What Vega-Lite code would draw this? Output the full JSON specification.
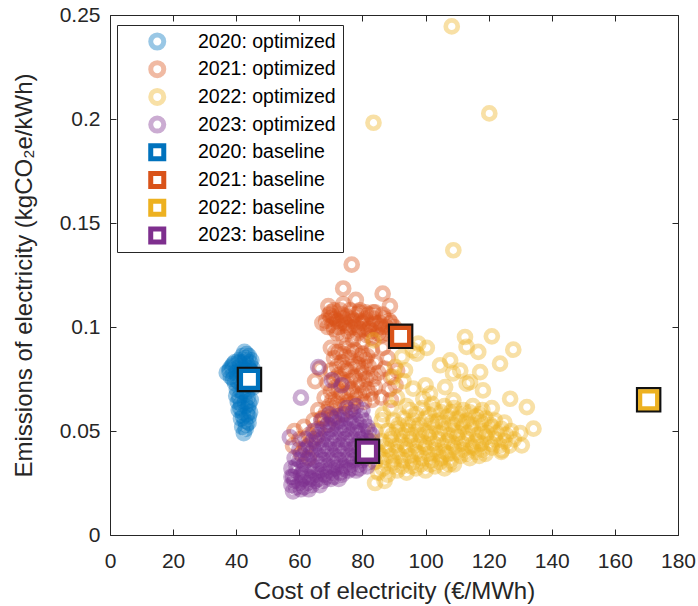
{
  "$schema": "https://vega.github.io/schema/vega-lite/v6.json",
  "width": 568,
  "height": 520,
  "autosize": "none",
  "padding": {"left": 110, "top": 15, "right": 20, "bottom": 71},
  "background": "white",
  "config": {
    "view": {"stroke": null},
    "font": "Liberation Sans",
    "axis": {
      "grid": false,
      "domainColor": "#262626",
      "domainWidth": 1,
      "tickColor": "#262626",
      "tickWidth": 1,
      "tickSize": -6,
      "labelColor": "#262626",
      "labelFont": "Liberation Sans",
      "labelFontSize": 21,
      "titleColor": "#262626",
      "titleFont": "Liberation Sans",
      "titleFontSize": 24,
      "titleFontWeight": "normal"
    }
  },
  "datasets": {
    "opt": [
      {"s":"2020: optimized","x":37.0,"y":0.078},{"s":"2020: optimized","x":37.8,"y":0.079},{"s":"2020: optimized","x":38.3,"y":0.076},{"s":"2020: optimized","x":38.6,"y":0.081},{"s":"2020: optimized","x":39.2,"y":0.078},{"s":"2020: optimized","x":39.5,"y":0.083},{"s":"2020: optimized","x":40.1,"y":0.080},{"s":"2020: optimized","x":40.4,"y":0.076},{"s":"2020: optimized","x":40.8,"y":0.084},{"s":"2020: optimized","x":41.2,"y":0.081},{"s":"2020: optimized","x":41.5,"y":0.078},{"s":"2020: optimized","x":41.9,"y":0.086},{"s":"2020: optimized","x":42.2,"y":0.083},{"s":"2020: optimized","x":42.6,"y":0.088},{"s":"2020: optimized","x":42.9,"y":0.085},{"s":"2020: optimized","x":43.3,"y":0.087},{"s":"2020: optimized","x":43.6,"y":0.082},{"s":"2020: optimized","x":44.0,"y":0.086},{"s":"2020: optimized","x":44.3,"y":0.083},{"s":"2020: optimized","x":44.8,"y":0.084},{"s":"2020: optimized","x":45.2,"y":0.080},{"s":"2020: optimized","x":44.6,"y":0.079},{"s":"2020: optimized","x":43.1,"y":0.079},{"s":"2020: optimized","x":42.4,"y":0.076},{"s":"2020: optimized","x":41.1,"y":0.073},{"s":"2020: optimized","x":39.6,"y":0.073},{"s":"2020: optimized","x":40.2,"y":0.070},{"s":"2020: optimized","x":42.0,"y":0.072},{"s":"2020: optimized","x":43.8,"y":0.072},{"s":"2020: optimized","x":44.9,"y":0.075},{"s":"2020: optimized","x":45.3,"y":0.071},{"s":"2020: optimized","x":41.0,"y":0.066},{"s":"2020: optimized","x":42.3,"y":0.067},{"s":"2020: optimized","x":43.6,"y":0.066},{"s":"2020: optimized","x":41.6,"y":0.063},{"s":"2020: optimized","x":42.9,"y":0.062},{"s":"2020: optimized","x":44.1,"y":0.063},{"s":"2020: optimized","x":40.8,"y":0.060},{"s":"2020: optimized","x":42.1,"y":0.059},{"s":"2020: optimized","x":43.4,"y":0.058},{"s":"2020: optimized","x":44.4,"y":0.059},{"s":"2020: optimized","x":41.5,"y":0.056},{"s":"2020: optimized","x":42.7,"y":0.055},{"s":"2020: optimized","x":43.9,"y":0.054},{"s":"2020: optimized","x":41.9,"y":0.052},{"s":"2020: optimized","x":43.0,"y":0.051},{"s":"2020: optimized","x":42.4,"y":0.049},{"s":"2020: optimized","x":44.6,"y":0.065},{"s":"2020: optimized","x":40.5,"y":0.064},
      {"s":"2020: optimized","x":38.0,"y":0.080},{"s":"2020: optimized","x":39.0,"y":0.082},{"s":"2020: optimized","x":40.0,"y":0.078},{"s":"2020: optimized","x":41.0,"y":0.083},{"s":"2020: optimized","x":42.0,"y":0.080},{"s":"2020: optimized","x":43.0,"y":0.084},{"s":"2020: optimized","x":44.0,"y":0.080},{"s":"2020: optimized","x":45.0,"y":0.078},{"s":"2020: optimized","x":39.0,"y":0.075},{"s":"2020: optimized","x":40.5,"y":0.074},{"s":"2020: optimized","x":43.0,"y":0.074},{"s":"2020: optimized","x":44.0,"y":0.077},{"s":"2020: optimized","x":42.0,"y":0.069},{"s":"2020: optimized","x":43.5,"y":0.069},{"s":"2020: optimized","x":41.5,"y":0.069},{"s":"2020: optimized","x":40.0,"y":0.067},{"s":"2020: optimized","x":42.8,"y":0.064},{"s":"2020: optimized","x":41.3,"y":0.061},{"s":"2020: optimized","x":43.7,"y":0.061},{"s":"2020: optimized","x":42.2,"y":0.057},{"s":"2020: optimized","x":43.2,"y":0.053},{"s":"2020: optimized","x":44.0,"y":0.057},

      {"s":"2021: optimized","x":76.6,"y":0.130},{"s":"2021: optimized","x":73.9,"y":0.1185},{"s":"2021: optimized","x":77.9,"y":0.113},{"s":"2021: optimized","x":86.4,"y":0.116},{"s":"2021: optimized","x":69.2,"y":0.110},{"s":"2021: optimized","x":67.3,"y":0.102},{"s":"2021: optimized","x":88.7,"y":0.110},{"s":"2021: optimized","x":79.2,"y":0.108},{"s":"2021: optimized","x":73.9,"y":0.111},{"s":"2021: optimized","x":83.4,"y":0.107},{"s":"2021: optimized","x":70.8,"y":0.105},
      {"s":"2021: optimized","x":68.5,"y":0.103},{"s":"2021: optimized","x":69.5,"y":0.106},{"s":"2021: optimized","x":70.5,"y":0.101},{"s":"2021: optimized","x":71.5,"y":0.104},{"s":"2021: optimized","x":72.5,"y":0.100},{"s":"2021: optimized","x":73.5,"y":0.106},{"s":"2021: optimized","x":74.5,"y":0.102},{"s":"2021: optimized","x":75.5,"y":0.098},{"s":"2021: optimized","x":76.5,"y":0.104},{"s":"2021: optimized","x":77.5,"y":0.100},{"s":"2021: optimized","x":78.5,"y":0.097},{"s":"2021: optimized","x":79.5,"y":0.103},{"s":"2021: optimized","x":80.5,"y":0.099},{"s":"2021: optimized","x":81.5,"y":0.096},{"s":"2021: optimized","x":82.5,"y":0.101},{"s":"2021: optimized","x":83.5,"y":0.104},{"s":"2021: optimized","x":84.5,"y":0.099},{"s":"2021: optimized","x":85.5,"y":0.102},{"s":"2021: optimized","x":86.5,"y":0.106},{"s":"2021: optimized","x":87.5,"y":0.100},{"s":"2021: optimized","x":88.5,"y":0.103},{"s":"2021: optimized","x":89.5,"y":0.098},{"s":"2021: optimized","x":74.0,"y":0.095},{"s":"2021: optimized","x":77.0,"y":0.094},{"s":"2021: optimized","x":80.0,"y":0.093},{"s":"2021: optimized","x":83.0,"y":0.095},{"s":"2021: optimized","x":86.0,"y":0.096},{"s":"2021: optimized","x":72.0,"y":0.097},{"s":"2021: optimized","x":79.0,"y":0.107},{"s":"2021: optimized","x":82.0,"y":0.106},{"s":"2021: optimized","x":76.0,"y":0.108},{"s":"2021: optimized","x":71.0,"y":0.108},
      {"s":"2021: optimized","x":69.0,"y":0.100},{"s":"2021: optimized","x":70.0,"y":0.104},{"s":"2021: optimized","x":71.0,"y":0.099},{"s":"2021: optimized","x":72.0,"y":0.103},{"s":"2021: optimized","x":73.0,"y":0.102},{"s":"2021: optimized","x":74.0,"y":0.104},{"s":"2021: optimized","x":75.0,"y":0.101},{"s":"2021: optimized","x":76.0,"y":0.100},{"s":"2021: optimized","x":77.0,"y":0.103},{"s":"2021: optimized","x":78.0,"y":0.101},{"s":"2021: optimized","x":79.0,"y":0.099},{"s":"2021: optimized","x":80.0,"y":0.102},{"s":"2021: optimized","x":81.0,"y":0.104},{"s":"2021: optimized","x":82.0,"y":0.099},{"s":"2021: optimized","x":83.0,"y":0.098},{"s":"2021: optimized","x":84.0,"y":0.102},{"s":"2021: optimized","x":85.0,"y":0.097},{"s":"2021: optimized","x":86.0,"y":0.100},{"s":"2021: optimized","x":87.0,"y":0.104},{"s":"2021: optimized","x":88.0,"y":0.097},{"s":"2021: optimized","x":89.0,"y":0.102},{"s":"2021: optimized","x":90.0,"y":0.100},{"s":"2021: optimized","x":75.0,"y":0.105},{"s":"2021: optimized","x":78.0,"y":0.106},{"s":"2021: optimized","x":73.0,"y":0.108},{"s":"2021: optimized","x":81.0,"y":0.107},{"s":"2021: optimized","x":84.0,"y":0.107},{"s":"2021: optimized","x":70.0,"y":0.107},
      {"s":"2021: optimized","x":70.0,"y":0.090},{"s":"2021: optimized","x":72.5,"y":0.088},{"s":"2021: optimized","x":75.0,"y":0.091},{"s":"2021: optimized","x":77.5,"y":0.089},{"s":"2021: optimized","x":80.0,"y":0.087},{"s":"2021: optimized","x":83.0,"y":0.089},{"s":"2021: optimized","x":71.0,"y":0.085},{"s":"2021: optimized","x":73.5,"y":0.083},{"s":"2021: optimized","x":76.0,"y":0.085},{"s":"2021: optimized","x":78.5,"y":0.082},{"s":"2021: optimized","x":81.0,"y":0.084},{"s":"2021: optimized","x":84.0,"y":0.083},{"s":"2021: optimized","x":70.0,"y":0.079},{"s":"2021: optimized","x":72.5,"y":0.077},{"s":"2021: optimized","x":75.0,"y":0.079},{"s":"2021: optimized","x":77.5,"y":0.076},{"s":"2021: optimized","x":80.0,"y":0.078},{"s":"2021: optimized","x":82.5,"y":0.077},{"s":"2021: optimized","x":85.0,"y":0.078},{"s":"2021: optimized","x":69.0,"y":0.073},{"s":"2021: optimized","x":71.5,"y":0.071},{"s":"2021: optimized","x":74.0,"y":0.073},{"s":"2021: optimized","x":76.5,"y":0.070},{"s":"2021: optimized","x":79.0,"y":0.072},{"s":"2021: optimized","x":81.5,"y":0.070},{"s":"2021: optimized","x":84.0,"y":0.071},{"s":"2021: optimized","x":68.0,"y":0.066},{"s":"2021: optimized","x":70.5,"y":0.065},{"s":"2021: optimized","x":73.0,"y":0.067},{"s":"2021: optimized","x":75.5,"y":0.064},{"s":"2021: optimized","x":78.0,"y":0.066},{"s":"2021: optimized","x":80.5,"y":0.064},{"s":"2021: optimized","x":83.0,"y":0.065},{"s":"2021: optimized","x":66.0,"y":0.060},{"s":"2021: optimized","x":68.5,"y":0.059},{"s":"2021: optimized","x":71.0,"y":0.061},{"s":"2021: optimized","x":73.5,"y":0.058},{"s":"2021: optimized","x":76.0,"y":0.060},
      {"s":"2021: optimized","x":71.5,"y":0.088},{"s":"2021: optimized","x":74.0,"y":0.087},{"s":"2021: optimized","x":76.5,"y":0.088},{"s":"2021: optimized","x":79.0,"y":0.086},{"s":"2021: optimized","x":81.5,"y":0.086},{"s":"2021: optimized","x":72.0,"y":0.081},{"s":"2021: optimized","x":74.5,"y":0.080},{"s":"2021: optimized","x":77.0,"y":0.081},{"s":"2021: optimized","x":79.5,"y":0.080},{"s":"2021: optimized","x":82.0,"y":0.081},{"s":"2021: optimized","x":71.0,"y":0.075},{"s":"2021: optimized","x":73.5,"y":0.075},{"s":"2021: optimized","x":76.0,"y":0.074},{"s":"2021: optimized","x":78.5,"y":0.074},{"s":"2021: optimized","x":81.0,"y":0.075},{"s":"2021: optimized","x":83.5,"y":0.075},{"s":"2021: optimized","x":70.0,"y":0.069},{"s":"2021: optimized","x":72.5,"y":0.069},{"s":"2021: optimized","x":75.0,"y":0.068},{"s":"2021: optimized","x":77.5,"y":0.068},{"s":"2021: optimized","x":80.0,"y":0.068},{"s":"2021: optimized","x":82.5,"y":0.068},{"s":"2021: optimized","x":69.5,"y":0.062},{"s":"2021: optimized","x":72.0,"y":0.063},{"s":"2021: optimized","x":74.5,"y":0.062},{"s":"2021: optimized","x":77.0,"y":0.063},{"s":"2021: optimized","x":67.0,"y":0.056},{"s":"2021: optimized","x":70.0,"y":0.057},
      {"s":"2021: optimized","x":86.5,"y":0.090},{"s":"2021: optimized","x":88.0,"y":0.085},{"s":"2021: optimized","x":87.0,"y":0.080},{"s":"2021: optimized","x":89.0,"y":0.076},{"s":"2021: optimized","x":91.0,"y":0.079},{"s":"2021: optimized","x":88.5,"y":0.070},{"s":"2021: optimized","x":90.5,"y":0.072},{"s":"2021: optimized","x":86.0,"y":0.066},{"s":"2021: optimized","x":89.0,"y":0.065},
      {"s":"2021: optimized","x":58.5,"y":0.050},{"s":"2021: optimized","x":60.0,"y":0.046},{"s":"2021: optimized","x":61.5,"y":0.052},{"s":"2021: optimized","x":63.0,"y":0.048},{"s":"2021: optimized","x":64.5,"y":0.055},{"s":"2021: optimized","x":66.0,"y":0.051},{"s":"2021: optimized","x":67.5,"y":0.056},{"s":"2021: optimized","x":62.0,"y":0.042},{"s":"2021: optimized","x":64.0,"y":0.045},{"s":"2021: optimized","x":60.5,"y":0.039},{"s":"2021: optimized","x":65.5,"y":0.047},{"s":"2021: optimized","x":69.0,"y":0.053},{"s":"2021: optimized","x":63.0,"y":0.037},{"s":"2021: optimized","x":58.0,"y":0.043},{"s":"2021: optimized","x":71.0,"y":0.056},{"s":"2021: optimized","x":65.0,"y":0.074},{"s":"2021: optimized","x":66.5,"y":0.080},

      {"s":"2022: optimized","x":108.3,"y":0.2445},{"s":"2022: optimized","x":120.2,"y":0.2027},{"s":"2022: optimized","x":83.5,"y":0.1982},{"s":"2022: optimized","x":108.8,"y":0.1369},
      {"s":"2022: optimized","x":112.5,"y":0.0952},{"s":"2022: optimized","x":121.0,"y":0.0955},{"s":"2022: optimized","x":127.8,"y":0.0891},{"s":"2022: optimized","x":123.6,"y":0.0824},{"s":"2022: optimized","x":116.7,"y":0.088},{"s":"2022: optimized","x":113.0,"y":0.0904},{"s":"2022: optimized","x":107.8,"y":0.084},{"s":"2022: optimized","x":104.6,"y":0.0816},{"s":"2022: optimized","x":97.7,"y":0.092},{"s":"2022: optimized","x":92.5,"y":0.0856},{"s":"2022: optimized","x":96.1,"y":0.0704},{"s":"2022: optimized","x":99.3,"y":0.0655},{"s":"2022: optimized","x":108.8,"y":0.0647},{"s":"2022: optimized","x":117.3,"y":0.0783},{"s":"2022: optimized","x":114.1,"y":0.0735},{"s":"2022: optimized","x":126.8,"y":0.0655},{"s":"2022: optimized","x":132.1,"y":0.0615},{"s":"2022: optimized","x":134.2,"y":0.0511},{"s":"2022: optimized","x":130.5,"y":0.0431},{"s":"2022: optimized","x":124.2,"y":0.0407},{"s":"2022: optimized","x":86.1,"y":0.0551},{"s":"2022: optimized","x":108.7,"y":0.0777},{"s":"2022: optimized","x":111.0,"y":0.079},{"s":"2022: optimized","x":113.0,"y":0.0728},{"s":"2022: optimized","x":118.2,"y":0.0695},{"s":"2022: optimized","x":106.2,"y":0.0711},{"s":"2022: optimized","x":101.4,"y":0.068},{"s":"2022: optimized","x":93.5,"y":0.0792},{"s":"2022: optimized","x":89.8,"y":0.076},{"s":"2022: optimized","x":97.2,"y":0.0872},{"s":"2022: optimized","x":83.5,"y":0.0936},{"s":"2022: optimized","x":100.4,"y":0.090},{"s":"2022: optimized","x":96.0,"y":0.0888},{"s":"2022: optimized","x":90.3,"y":0.0807},{"s":"2022: optimized","x":91.0,"y":0.066},{"s":"2022: optimized","x":94.0,"y":0.062},{"s":"2022: optimized","x":89.0,"y":0.061},{"s":"2022: optimized","x":93.0,"y":0.074},{"s":"2022: optimized","x":100.0,"y":0.072},{"s":"2022: optimized","x":102.0,"y":0.063},
      {"s":"2022: optimized","x":85,"y":0.030},{"s":"2022: optimized","x":88,"y":0.029},{"s":"2022: optimized","x":91,"y":0.031},{"s":"2022: optimized","x":94,"y":0.030},{"s":"2022: optimized","x":97,"y":0.032},{"s":"2022: optimized","x":100,"y":0.031},{"s":"2022: optimized","x":103,"y":0.033},{"s":"2022: optimized","x":106,"y":0.032},{"s":"2022: optimized","x":109,"y":0.034},
      {"s":"2022: optimized","x":84,"y":0.035},{"s":"2022: optimized","x":87,"y":0.036},{"s":"2022: optimized","x":90,"y":0.035},{"s":"2022: optimized","x":93,"y":0.036},{"s":"2022: optimized","x":96,"y":0.035},{"s":"2022: optimized","x":99,"y":0.037},{"s":"2022: optimized","x":102,"y":0.036},{"s":"2022: optimized","x":105,"y":0.037},{"s":"2022: optimized","x":108,"y":0.036},{"s":"2022: optimized","x":111,"y":0.038},{"s":"2022: optimized","x":114,"y":0.037},{"s":"2022: optimized","x":117,"y":0.038},
      {"s":"2022: optimized","x":85,"y":0.040},{"s":"2022: optimized","x":88,"y":0.041},{"s":"2022: optimized","x":91,"y":0.040},{"s":"2022: optimized","x":94,"y":0.041},{"s":"2022: optimized","x":97,"y":0.040},{"s":"2022: optimized","x":100,"y":0.042},{"s":"2022: optimized","x":103,"y":0.041},{"s":"2022: optimized","x":106,"y":0.040},{"s":"2022: optimized","x":109,"y":0.042},{"s":"2022: optimized","x":112,"y":0.041},{"s":"2022: optimized","x":115,"y":0.042},{"s":"2022: optimized","x":118,"y":0.041},{"s":"2022: optimized","x":121,"y":0.042},{"s":"2022: optimized","x":124,"y":0.040},
      {"s":"2022: optimized","x":86,"y":0.045},{"s":"2022: optimized","x":89,"y":0.046},{"s":"2022: optimized","x":92,"y":0.045},{"s":"2022: optimized","x":95,"y":0.046},{"s":"2022: optimized","x":98,"y":0.045},{"s":"2022: optimized","x":101,"y":0.047},{"s":"2022: optimized","x":104,"y":0.046},{"s":"2022: optimized","x":107,"y":0.045},{"s":"2022: optimized","x":110,"y":0.047},{"s":"2022: optimized","x":113,"y":0.046},{"s":"2022: optimized","x":116,"y":0.045},{"s":"2022: optimized","x":119,"y":0.047},{"s":"2022: optimized","x":122,"y":0.046},{"s":"2022: optimized","x":125,"y":0.045},{"s":"2022: optimized","x":128,"y":0.046},
      {"s":"2022: optimized","x":88,"y":0.050},{"s":"2022: optimized","x":91,"y":0.051},{"s":"2022: optimized","x":94,"y":0.050},{"s":"2022: optimized","x":97,"y":0.051},{"s":"2022: optimized","x":100,"y":0.050},{"s":"2022: optimized","x":103,"y":0.052},{"s":"2022: optimized","x":106,"y":0.051},{"s":"2022: optimized","x":109,"y":0.050},{"s":"2022: optimized","x":112,"y":0.052},{"s":"2022: optimized","x":115,"y":0.051},{"s":"2022: optimized","x":118,"y":0.050},{"s":"2022: optimized","x":121,"y":0.052},{"s":"2022: optimized","x":124,"y":0.051},{"s":"2022: optimized","x":127,"y":0.050},{"s":"2022: optimized","x":130,"y":0.049},
      {"s":"2022: optimized","x":90,"y":0.055},{"s":"2022: optimized","x":93,"y":0.056},{"s":"2022: optimized","x":96,"y":0.055},{"s":"2022: optimized","x":100,"y":0.056},{"s":"2022: optimized","x":104,"y":0.055},{"s":"2022: optimized","x":107,"y":0.057},{"s":"2022: optimized","x":110,"y":0.056},{"s":"2022: optimized","x":113,"y":0.055},{"s":"2022: optimized","x":116,"y":0.057},{"s":"2022: optimized","x":119,"y":0.056},{"s":"2022: optimized","x":122,"y":0.055},{"s":"2022: optimized","x":125,"y":0.054},
      {"s":"2022: optimized","x":95,"y":0.060},{"s":"2022: optimized","x":99,"y":0.061},{"s":"2022: optimized","x":103,"y":0.060},{"s":"2022: optimized","x":106,"y":0.062},{"s":"2022: optimized","x":109,"y":0.061},{"s":"2022: optimized","x":112,"y":0.060},{"s":"2022: optimized","x":115,"y":0.062},{"s":"2022: optimized","x":118,"y":0.060},{"s":"2022: optimized","x":121,"y":0.061},
      {"s":"2022: optimized","x":83,"y":0.045},{"s":"2022: optimized","x":84,"y":0.050},{"s":"2022: optimized","x":86.5,"y":0.058},{"s":"2022: optimized","x":82.5,"y":0.038},{"s":"2022: optimized","x":84,"y":0.025},{"s":"2022: optimized","x":87,"y":0.026},
      {"s":"2022: optimized","x":86.5,"y":0.032},{"s":"2022: optimized","x":89.5,"y":0.033},{"s":"2022: optimized","x":92.5,"y":0.033},{"s":"2022: optimized","x":95.5,"y":0.033},{"s":"2022: optimized","x":98.5,"y":0.034},{"s":"2022: optimized","x":101.5,"y":0.034},{"s":"2022: optimized","x":104.5,"y":0.035},{"s":"2022: optimized","x":107.5,"y":0.034},{"s":"2022: optimized","x":86,"y":0.038},{"s":"2022: optimized","x":89,"y":0.038},{"s":"2022: optimized","x":92,"y":0.038},{"s":"2022: optimized","x":95,"y":0.038},{"s":"2022: optimized","x":98,"y":0.039},{"s":"2022: optimized","x":101,"y":0.039},{"s":"2022: optimized","x":104,"y":0.039},{"s":"2022: optimized","x":107,"y":0.039},{"s":"2022: optimized","x":110,"y":0.040},{"s":"2022: optimized","x":113,"y":0.039},{"s":"2022: optimized","x":116,"y":0.040},{"s":"2022: optimized","x":119,"y":0.039},
      {"s":"2022: optimized","x":87.5,"y":0.043},{"s":"2022: optimized","x":90.5,"y":0.043},{"s":"2022: optimized","x":93.5,"y":0.043},{"s":"2022: optimized","x":96.5,"y":0.043},{"s":"2022: optimized","x":99.5,"y":0.044},{"s":"2022: optimized","x":102.5,"y":0.044},{"s":"2022: optimized","x":105.5,"y":0.043},{"s":"2022: optimized","x":108.5,"y":0.044},{"s":"2022: optimized","x":111.5,"y":0.044},{"s":"2022: optimized","x":114.5,"y":0.043},{"s":"2022: optimized","x":117.5,"y":0.044},{"s":"2022: optimized","x":120.5,"y":0.044},{"s":"2022: optimized","x":123.5,"y":0.043},{"s":"2022: optimized","x":126.5,"y":0.043},
      {"s":"2022: optimized","x":89.5,"y":0.048},{"s":"2022: optimized","x":92.5,"y":0.048},{"s":"2022: optimized","x":95.5,"y":0.048},{"s":"2022: optimized","x":98.5,"y":0.048},{"s":"2022: optimized","x":101.5,"y":0.049},{"s":"2022: optimized","x":104.5,"y":0.049},{"s":"2022: optimized","x":107.5,"y":0.048},{"s":"2022: optimized","x":110.5,"y":0.049},{"s":"2022: optimized","x":113.5,"y":0.049},{"s":"2022: optimized","x":116.5,"y":0.048},{"s":"2022: optimized","x":119.5,"y":0.049},{"s":"2022: optimized","x":122.5,"y":0.049},{"s":"2022: optimized","x":125.5,"y":0.048},
      {"s":"2022: optimized","x":91.5,"y":0.053},{"s":"2022: optimized","x":94.5,"y":0.053},{"s":"2022: optimized","x":98,"y":0.053},{"s":"2022: optimized","x":102,"y":0.054},{"s":"2022: optimized","x":105.5,"y":0.054},{"s":"2022: optimized","x":108.5,"y":0.053},{"s":"2022: optimized","x":111.5,"y":0.054},{"s":"2022: optimized","x":114.5,"y":0.053},{"s":"2022: optimized","x":117.5,"y":0.054},{"s":"2022: optimized","x":120.5,"y":0.053},{"s":"2022: optimized","x":97,"y":0.058},{"s":"2022: optimized","x":101,"y":0.058},{"s":"2022: optimized","x":105,"y":0.059},{"s":"2022: optimized","x":108,"y":0.059},{"s":"2022: optimized","x":111,"y":0.058},{"s":"2022: optimized","x":114,"y":0.059},{"s":"2022: optimized","x":117,"y":0.058},

      {"s":"2023: optimized","x":66.0,"y":0.0807},{"s":"2023: optimized","x":70.3,"y":0.0744},{"s":"2023: optimized","x":73.4,"y":0.072},{"s":"2023: optimized","x":60.5,"y":0.066},{"s":"2023: optimized","x":57.0,"y":0.047},
      {"s":"2023: optimized","x":72,"y":0.057},{"s":"2023: optimized","x":74.5,"y":0.058},{"s":"2023: optimized","x":77,"y":0.059},{"s":"2023: optimized","x":79.5,"y":0.057},
      {"s":"2023: optimized","x":69,"y":0.053},{"s":"2023: optimized","x":71.5,"y":0.054},{"s":"2023: optimized","x":74,"y":0.053},{"s":"2023: optimized","x":76.5,"y":0.054},{"s":"2023: optimized","x":79,"y":0.053},{"s":"2023: optimized","x":81.5,"y":0.052},
      {"s":"2023: optimized","x":66,"y":0.048},{"s":"2023: optimized","x":68.5,"y":0.049},{"s":"2023: optimized","x":71,"y":0.048},{"s":"2023: optimized","x":73.5,"y":0.049},{"s":"2023: optimized","x":76,"y":0.048},{"s":"2023: optimized","x":78.5,"y":0.049},{"s":"2023: optimized","x":81,"y":0.047},{"s":"2023: optimized","x":83,"y":0.048},
      {"s":"2023: optimized","x":63,"y":0.043},{"s":"2023: optimized","x":65.5,"y":0.044},{"s":"2023: optimized","x":68,"y":0.043},{"s":"2023: optimized","x":70.5,"y":0.044},{"s":"2023: optimized","x":73,"y":0.043},{"s":"2023: optimized","x":75.5,"y":0.044},{"s":"2023: optimized","x":78,"y":0.043},{"s":"2023: optimized","x":80.5,"y":0.044},{"s":"2023: optimized","x":82.5,"y":0.042},
      {"s":"2023: optimized","x":61,"y":0.038},{"s":"2023: optimized","x":63.5,"y":0.039},{"s":"2023: optimized","x":66,"y":0.038},{"s":"2023: optimized","x":68.5,"y":0.039},{"s":"2023: optimized","x":71,"y":0.038},{"s":"2023: optimized","x":73.5,"y":0.039},{"s":"2023: optimized","x":76,"y":0.038},{"s":"2023: optimized","x":78.5,"y":0.039},{"s":"2023: optimized","x":81,"y":0.037},{"s":"2023: optimized","x":83,"y":0.038},
      {"s":"2023: optimized","x":59,"y":0.033},{"s":"2023: optimized","x":61.5,"y":0.034},{"s":"2023: optimized","x":64,"y":0.033},{"s":"2023: optimized","x":66.5,"y":0.034},{"s":"2023: optimized","x":69,"y":0.033},{"s":"2023: optimized","x":71.5,"y":0.034},{"s":"2023: optimized","x":74,"y":0.033},{"s":"2023: optimized","x":76.5,"y":0.034},{"s":"2023: optimized","x":79,"y":0.034},{"s":"2023: optimized","x":81.5,"y":0.033},
      {"s":"2023: optimized","x":58,"y":0.028},{"s":"2023: optimized","x":60.5,"y":0.029},{"s":"2023: optimized","x":63,"y":0.028},{"s":"2023: optimized","x":65.5,"y":0.029},{"s":"2023: optimized","x":68,"y":0.029},{"s":"2023: optimized","x":70.5,"y":0.030},{"s":"2023: optimized","x":73,"y":0.030},{"s":"2023: optimized","x":75.5,"y":0.031},{"s":"2023: optimized","x":78,"y":0.031},
      {"s":"2023: optimized","x":57.5,"y":0.024},{"s":"2023: optimized","x":60,"y":0.025},{"s":"2023: optimized","x":62.5,"y":0.025},{"s":"2023: optimized","x":65,"y":0.026},{"s":"2023: optimized","x":67.5,"y":0.026},{"s":"2023: optimized","x":70,"y":0.027},{"s":"2023: optimized","x":72.5,"y":0.027},
      {"s":"2023: optimized","x":58,"y":0.021},{"s":"2023: optimized","x":60.5,"y":0.022},{"s":"2023: optimized","x":63,"y":0.022},
      {"s":"2023: optimized","x":57.5,"y":0.032},{"s":"2023: optimized","x":58.5,"y":0.037},{"s":"2023: optimized","x":60,"y":0.041},{"s":"2023: optimized","x":62,"y":0.046},{"s":"2023: optimized","x":64.5,"y":0.050},{"s":"2023: optimized","x":67,"y":0.055},{"s":"2023: optimized","x":69.5,"y":0.058},{"s":"2023: optimized","x":75,"y":0.061},{"s":"2023: optimized","x":78,"y":0.062},{"s":"2023: optimized","x":80,"y":0.060},
      {"s":"2023: optimized","x":70.5,"y":0.056},{"s":"2023: optimized","x":73,"y":0.055},{"s":"2023: optimized","x":75.5,"y":0.056},{"s":"2023: optimized","x":78,"y":0.055},{"s":"2023: optimized","x":80.5,"y":0.055},{"s":"2023: optimized","x":67.5,"y":0.051},{"s":"2023: optimized","x":70,"y":0.051},{"s":"2023: optimized","x":72.5,"y":0.051},{"s":"2023: optimized","x":75,"y":0.051},{"s":"2023: optimized","x":77.5,"y":0.051},{"s":"2023: optimized","x":80,"y":0.050},{"s":"2023: optimized","x":82,"y":0.050},
      {"s":"2023: optimized","x":64.5,"y":0.046},{"s":"2023: optimized","x":67,"y":0.046},{"s":"2023: optimized","x":69.5,"y":0.046},{"s":"2023: optimized","x":72,"y":0.046},{"s":"2023: optimized","x":74.5,"y":0.046},{"s":"2023: optimized","x":77,"y":0.046},{"s":"2023: optimized","x":79.5,"y":0.046},{"s":"2023: optimized","x":82,"y":0.045},
      {"s":"2023: optimized","x":62,"y":0.041},{"s":"2023: optimized","x":64.5,"y":0.041},{"s":"2023: optimized","x":67,"y":0.041},{"s":"2023: optimized","x":69.5,"y":0.041},{"s":"2023: optimized","x":72,"y":0.041},{"s":"2023: optimized","x":74.5,"y":0.041},{"s":"2023: optimized","x":77,"y":0.041},{"s":"2023: optimized","x":79.5,"y":0.041},{"s":"2023: optimized","x":82,"y":0.040},
      {"s":"2023: optimized","x":60,"y":0.036},{"s":"2023: optimized","x":62.5,"y":0.036},{"s":"2023: optimized","x":65,"y":0.036},{"s":"2023: optimized","x":67.5,"y":0.036},{"s":"2023: optimized","x":70,"y":0.036},{"s":"2023: optimized","x":72.5,"y":0.036},{"s":"2023: optimized","x":75,"y":0.036},{"s":"2023: optimized","x":77.5,"y":0.036},{"s":"2023: optimized","x":80,"y":0.036},{"s":"2023: optimized","x":82,"y":0.035},
      {"s":"2023: optimized","x":59,"y":0.031},{"s":"2023: optimized","x":61.5,"y":0.031},{"s":"2023: optimized","x":64,"y":0.031},{"s":"2023: optimized","x":66.5,"y":0.031},{"s":"2023: optimized","x":69,"y":0.031},{"s":"2023: optimized","x":71.5,"y":0.032},{"s":"2023: optimized","x":74,"y":0.032},{"s":"2023: optimized","x":76.5,"y":0.032},{"s":"2023: optimized","x":79,"y":0.032},
      {"s":"2023: optimized","x":58.5,"y":0.026},{"s":"2023: optimized","x":61,"y":0.027},{"s":"2023: optimized","x":63.5,"y":0.027},{"s":"2023: optimized","x":66,"y":0.027},{"s":"2023: optimized","x":68.5,"y":0.028},{"s":"2023: optimized","x":71,"y":0.028},{"s":"2023: optimized","x":73.5,"y":0.029},{"s":"2023: optimized","x":59,"y":0.023},{"s":"2023: optimized","x":61.5,"y":0.023},{"s":"2023: optimized","x":64,"y":0.024},{"s":"2023: optimized","x":66.5,"y":0.024},{"s":"2023: optimized","x":57.5,"y":0.028}
    ],
    "base": [
      {"s":"2020: baseline","x":44.2,"y":0.0748},
      {"s":"2021: baseline","x":92.1,"y":0.0955},
      {"s":"2022: baseline","x":170.7,"y":0.065},
      {"s":"2023: baseline","x":81.6,"y":0.0403}
    ]
  },
  "layer": [
    {
      "data": {"name": "opt"},
      "mark": {"type": "point", "filled": false, "size": 144, "strokeWidth": 4.7, "opacity": 1},
      "encoding": {
        "x": {"field": "x", "type": "quantitative", "scale": {"domain": [0, 180], "nice": false, "zero": false},
              "axis": {"orient": "bottom", "values": [0,20,40,60,80,100,120,140,160,180], "labelPadding": 21, "title": "Cost of electricity (€/MWh)", "titlePadding": 8, "labelFlush": false}},
        "y": {"field": "y", "type": "quantitative", "scale": {"domain": [0, 0.25], "nice": false, "zero": false},
              "axis": {"orient": "left", "values": [0,0.05,0.1,0.15,0.2,0.25], "format": "~g", "labelPadding": 16, "title": "Emissions of electricity (kgCO₂e/kWh)", "titlePadding": 23, "labelFlush": false}},
        "color": {
          "field": "s", "type": "nominal",
          "scale": {
            "domain": ["2020: optimized","2021: optimized","2022: optimized","2023: optimized","2020: baseline","2021: baseline","2022: baseline","2023: baseline"],
            "range": ["rgba(0,114,189,0.4)","rgba(217,83,25,0.4)","rgba(237,177,32,0.4)","rgba(126,47,142,0.4)","#0072BD","#D95319","#EDB120","#7E2F8E"]
          },
          "legend": {
            "orient": "none", "legendX": 7, "legendY": 10, "title": null,
            "padding": 6.5, "strokeColor": "#262626", "fillColor": "white", "cornerRadius": 0,
            "labelFont": "Liberation Sans", "labelFontSize": 19.5, "labelColor": "#000000",
            "symbolSize": 170, "symbolStrokeWidth": 5, "clipHeight": 20, "rowPadding": 7.7, "symbolOffset": 24, "labelOffset": 31, "symbolOpacity": 1
          }
        },
        "shape": {
          "field": "s", "type": "nominal",
          "scale": {
            "domain": ["2020: optimized","2021: optimized","2022: optimized","2023: optimized","2020: baseline","2021: baseline","2022: baseline","2023: baseline"],
            "range": ["circle","circle","circle","circle","square","square","square","square"]
          },
          "legend": {
            "orient": "none", "legendX": 7, "legendY": 10, "title": null,
            "padding": 6.5, "strokeColor": "#262626", "fillColor": "white", "cornerRadius": 0,
            "labelFont": "Liberation Sans", "labelFontSize": 19.5, "labelColor": "#000000",
            "symbolSize": 170, "symbolStrokeWidth": 5, "clipHeight": 20, "rowPadding": 7.7, "symbolOffset": 24, "labelOffset": 31, "symbolOpacity": 1
          }
        }
      }
    },
    {
      "data": {"name": "base"},
      "mark": {"type": "square", "filled": false, "size": 529, "stroke": "#111111", "strokeWidth": 2.5, "opacity": 1},
      "encoding": {
        "x": {"field": "x", "type": "quantitative",
              "axis": {"orient": "top", "values": [0,20,40,60,80,100,120,140,160,180], "labels": false, "title": null}},
        "y": {"field": "y", "type": "quantitative",
              "axis": {"orient": "right", "values": [0,0.05,0.1,0.15,0.2,0.25], "labels": false, "title": null}}
      }
    },
    {
      "data": {"name": "base"},
      "mark": {"type": "square", "filled": true, "fill": "white", "size": 289, "strokeWidth": 4.2, "opacity": 1, "fillOpacity": 1, "strokeOpacity": 1},
      "encoding": {
        "x": {"field": "x", "type": "quantitative", "axis": null},
        "y": {"field": "y", "type": "quantitative", "axis": null},
        "stroke": {
          "field": "s", "type": "nominal",
          "scale": {"domain": ["2020: baseline","2021: baseline","2022: baseline","2023: baseline"], "range": ["#0072BD","#D95319","#EDB120","#7E2F8E"]},
          "legend": null
        }
      }
    }
  ]
}
